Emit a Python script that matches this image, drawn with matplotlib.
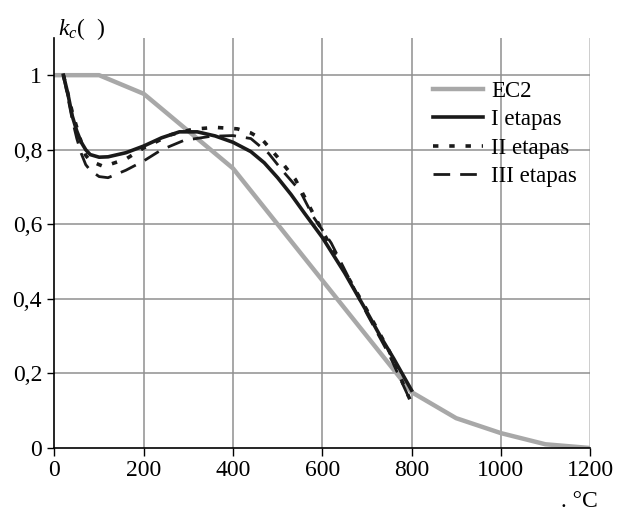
import matplotlib
matplotlib.use("Agg")
import matplotlib.pyplot as plt

plt.rcParams['font.family'] = ['Liberation Serif', 'DejaVu Serif']
plt.rcParams['mathtext.fontset'] = 'custom'
plt.rcParams['mathtext.it'] = 'Liberation Serif:italic'
plt.rcParams['mathtext.rm'] = 'Liberation Serif'

# EC2 reference curve
ec2_t = [0, 100, 200, 300, 400, 500, 600, 700, 800, 900, 1000, 1100, 1200]
ec2_k = [1.0, 1.0, 0.95, 0.85, 0.75, 0.60, 0.45, 0.30, 0.15, 0.08, 0.04, 0.01, 0.0]

# I etapas
s1_t = [20, 30, 40, 50, 60, 70, 80, 100, 120, 160, 200, 240, 280, 320, 360, 400,
        440, 470, 500, 530, 560, 600, 650, 700, 730, 760, 800]
s1_k = [1.0, 0.95, 0.89, 0.85, 0.82, 0.80, 0.787, 0.78, 0.781, 0.792, 0.81, 0.832,
        0.848, 0.848, 0.837, 0.82, 0.795, 0.765, 0.725, 0.68, 0.63, 0.565, 0.47,
        0.365, 0.30, 0.24, 0.155]

# II etapas
s2_t = [20, 30, 40, 50, 60, 70, 80, 110, 160, 200, 260, 310, 360, 410, 440, 465,
        500, 540, 590, 640, 700, 750, 800]
s2_k = [1.0, 0.95, 0.90, 0.86, 0.82, 0.785, 0.77, 0.755, 0.775, 0.805, 0.84, 0.855,
        0.86, 0.856, 0.845, 0.828, 0.78, 0.72, 0.605, 0.495, 0.37, 0.26, 0.12]

# III etapas
s3_t = [20, 30, 40, 50, 60, 70, 80, 100, 120, 160, 200, 240, 290, 350, 400, 440,
        480, 510, 550, 580, 620, 700, 750, 800]
s3_k = [1.0, 0.94, 0.88, 0.83, 0.79, 0.76, 0.745, 0.728, 0.725, 0.745, 0.77, 0.80,
        0.825, 0.836, 0.838, 0.83, 0.79, 0.745, 0.69, 0.62, 0.55, 0.36, 0.25, 0.12]

x_ticks = [0, 200, 400, 600, 800, 1000, 1200]
y_ticks = [0, 0.2, 0.4, 0.6, 0.8, 1.0]
y_tick_labels = ['0', '0,2', '0,4', '0,6', '0,8', '1']

fig = plt.figure(figsize=(6.17, 5.12), dpi=100)
ax = fig.add_axes([0.0883, 0.125, 0.868, 0.801])

ax.set_xlim(0, 1200)
ax.set_ylim(0, 1.1)
ax.set_xticks(x_ticks)
ax.set_yticks(y_ticks)
ax.set_yticklabels(y_tick_labels)
ax.tick_params(labelsize=17, length=5.4, width=1, direction='out', pad=3.5)

for v in x_ticks[1:]:
    ax.axvline(v, color='#8f8f8f' if v < 1200 else '#c0c0c0', lw=1.1, zorder=0)
for v in y_ticks[1:]:
    ax.axhline(v, color='#8f8f8f', lw=1.1, zorder=0)

for s in ['top', 'right']:
    ax.spines[s].set_visible(False)
for s in ['left', 'bottom']:
    ax.spines[s].set_linewidth(1.2)

ax.plot(ec2_t, ec2_k, color='#a8a8a8', lw=3.2, label='EC2', zorder=2)
ax.plot(s1_t, s1_k, color='#1a1a1a', lw=2.6, label='I etapas', zorder=3)
ax.plot(s2_t, s2_k, color='#1a1a1a', lw=2.6, dashes=(1.5, 3.0),
        label='II etapas', zorder=3)
ax.plot(s3_t, s3_k, color='#1a1a1a', lw=2.0, dashes=(6.0, 3.6),
        label='III etapas', zorder=3)

leg = ax.legend(loc='upper left', bbox_to_anchor=(0.706, 0.896), frameon=False,
                fontsize=16.5, handlelength=2.2, handletextpad=0.35,
                labelspacing=0.33, borderaxespad=0, borderpad=0)

fig.text(0.094, 0.932, r'$k_c$(  )', fontsize=17, ha='left', va='baseline')
fig.text(0.968, 0.0, '. °C', fontsize=17, ha='right', va='bottom')

fig.savefig('out.png', dpi=100)
